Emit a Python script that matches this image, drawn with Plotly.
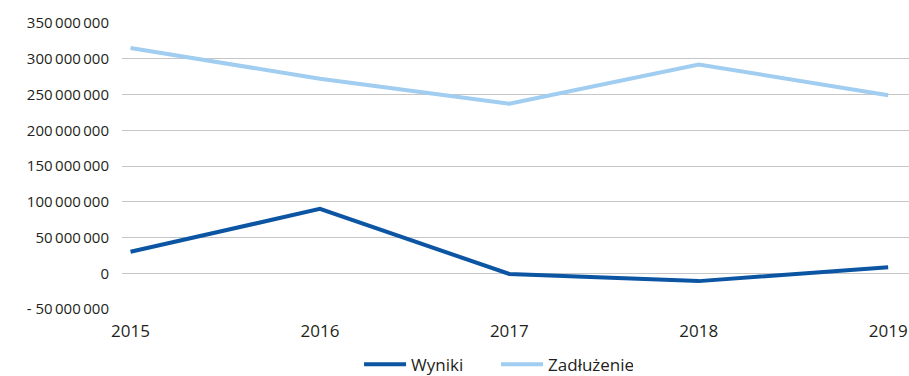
import plotly.graph_objects as go

years = [2015, 2016, 2017, 2018, 2019]
wyniki = [30_000_000, 90_000_000, -1_000_000, -11_000_000, 8_500_000]
zadluzenie = [315_000_000, 272_000_000, 237_000_000, 292_000_000, 249_000_000]

y_ticks = [-50_000_000, 0, 50_000_000, 100_000_000, 150_000_000,
           200_000_000, 250_000_000, 300_000_000, 350_000_000]
y_labels = ["- 50\u2009000\u2009000", "0", "50\u2009000\u2009000", "100\u2009000\u2009000",
            "150\u2009000\u2009000", "200\u2009000\u2009000", "250\u2009000\u2009000",
            "300\u2009000\u2009000", "350\u2009000\u2009000"]

fig = go.Figure()
fig.add_trace(go.Scatter(x=years, y=wyniki, name="Wyniki", mode="lines",
                         line=dict(color="#0B55A3", width=4)))
fig.add_trace(go.Scatter(x=years, y=zadluzenie, name="Zadłużenie", mode="lines",
                         line=dict(color="#A0CDF0", width=4)))

font = "Open Sans, Lato, sans-serif"
fig.update_layout(
    width=909, height=376,
    margin=dict(l=122, r=0, t=23, b=67),
    plot_bgcolor="white", paper_bgcolor="white",
    font=dict(family=font, size=15, color="#231F20"),
    showlegend=True,
    legend=dict(orientation="h", xref="container", yref="container",
                x=0.395, xanchor="left", y=0.03, yanchor="middle",
                font=dict(size=17), itemwidth=42, entrywidth=80, entrywidthmode="pixels"),
    xaxis=dict(range=[2014.955, 2019.11], tickvals=years, ticktext=[str(y) for y in years],
               showgrid=False, zeroline=False, showline=False, ticks="",
               ticklabelstandoff=10, tickfont=dict(size=17)),
    yaxis=dict(range=[-50_000_000, 350_000_000], tickvals=y_ticks, ticktext=y_labels,
               showgrid=True, gridcolor="#C6C6C6", gridwidth=1.3, zeroline=False,
               ticks="", ticklabelstandoff=12, tickfont=dict(size=15)),
)
fig.write_html("out.html")
